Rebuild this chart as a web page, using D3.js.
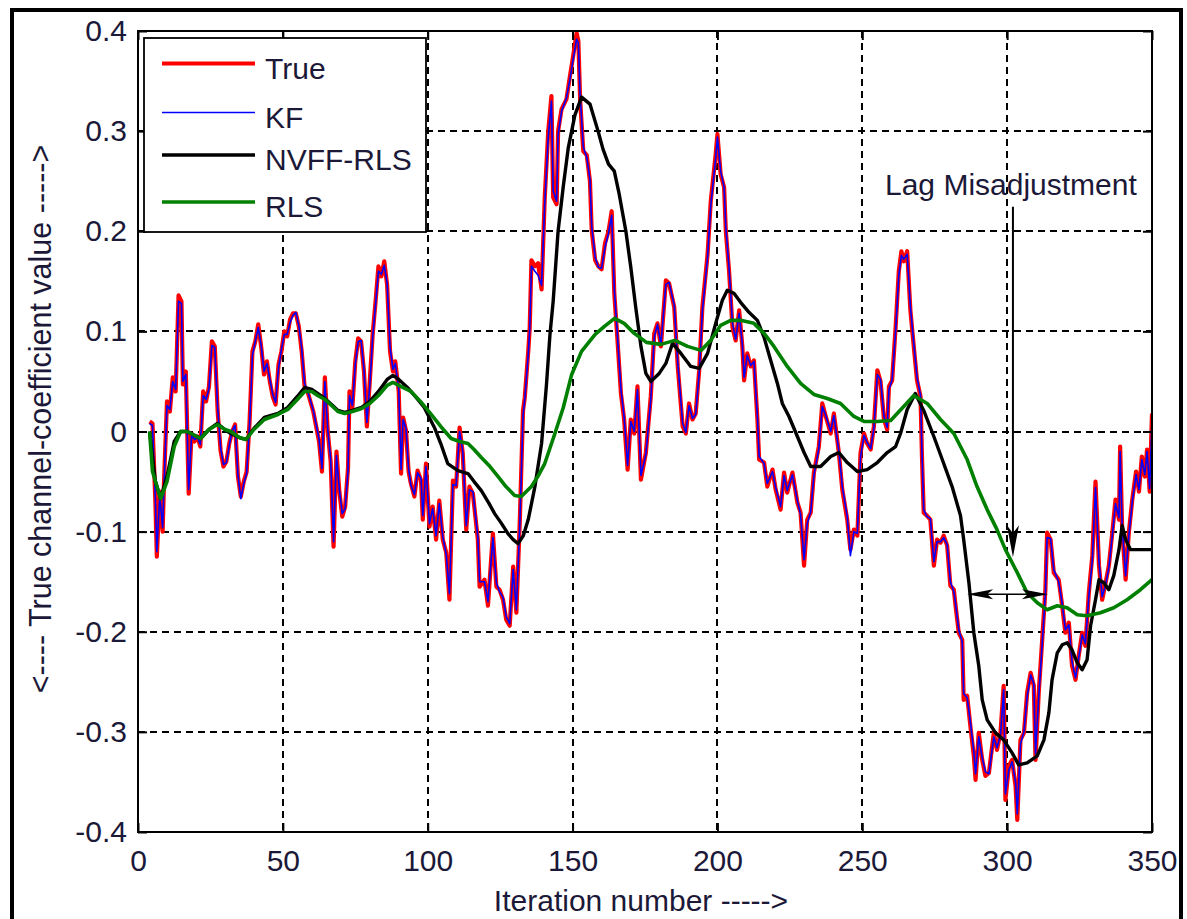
<!DOCTYPE html>
<html>
<head>
<meta charset="utf-8">
<script src="https://cdn.jsdelivr.net/npm/d3@7/dist/d3.min.js"></script>
<style>
  html, body { margin: 0; padding: 0; background: #ffffff; }
  svg { display: block; }
  text { font-family: "Liberation Sans", Arial, sans-serif; fill: #1b1838; }
</style>
</head>
<body>
<svg id="chart" width="1187" height="919"></svg>
<script>
// Iteration axis samples and channel-coefficient values for each estimator
const trueIter = [4,5,6,6.5,7.5,8.5,9,10,11,12,13,14,15,15.5,16.5,17.5,18.5,19.5,20.5,21.5,22.5,23.5,24.5,25.5,26.5,27.5,28.5,29.5,30.5,31.5,32.5,33.5,34.5,35.5,36.5,37.5,38.5,39.5,40.5,41.5,42.5,43.5,44.5,45.5,46.5,47.5,48.5,49.5,50.5,51.5,52.5,53.5,54.5,55.5,56.5,57.5,58.5,59.5,60.5,61.5,62.5,63.5,64.5,65.5,66.5,67.5,68.5,69.5,70.5,71.5,72.5,73,74,75,76,77,78,79,80,81,82,83,84,85,86,87,88,88.8,90,90.8,91.5,92.5,93.4,94.2,95.4,96.5,97.7,98.3,99.4,100.6,101.7,102.9,104,105.2,106.4,107.5,108.7,109.8,111,112.1,113.3,114.4,115.6,117.3,117.9,119.6,120.8,122.5,123.7,124.8,126,127.1,128.3,129.5,130.6,131.8,132.9,133.5,134.7,135.2,135.8,137,138.1,139.3,140.4,141.6,142.7,143.3,144.5,145,146.2,147.9,149.1,150.2,151.4,152,152.6,153.7,154.9,156,156.6,157.8,158.9,160,161.2,162.4,163.5,164.4,165.3,166.7,167.8,169,170.1,171.3,172.4,173.6,175.3,177,178.2,179.3,180.5,182.2,183.3,185.1,186.3,188,189.1,190.2,191.4,192.5,193.7,194.8,196.6,197.7,199.4,200,201.1,202.3,202.9,204,205.2,206.3,207.5,208.6,209.2,210.3,211.5,212.6,213.8,214.4,216.1,217.2,219,220.1,221.8,223,224.1,225.9,227.6,228.7,229.9,231,232.2,233.3,235,236.2,237.4,239.1,240.2,241.9,243.1,244.8,245.9,247.1,248.3,249.4,250.6,251.7,252.9,254,255.2,256.3,257.5,258.6,259.2,260.3,261.5,262.6,263.5,264.3,265.5,266.6,267.8,268.9,270.1,270.6,271.2,272.3,273.5,274.7,275.8,277,278.1,279.3,280.4,281.6,282.2,283.3,284.5,285,286.2,287.3,288.5,289.1,290.2,291.4,292.5,293.7,295.4,296.5,297.7,298.8,299.4,300.6,301.7,302.9,303.5,304.6,305.8,306.9,308.1,309.2,309.8,310.9,312.1,313.2,313.8,315,316.1,317.8,319,320.1,321.3,322.4,323.6,324.7,325.9,327,328.2,329.4,330.5,331.7,332.8,334,335.1,336.3,337.4,338.6,339,339.7,340.9,342,343.2,344.5,345.5,346.5,347.5,348.3,349.2,350];

const trueVal = [0.010,0.008,-0.070,-0.125,-0.060,-0.100,-0.049,0.030,0.020,0.054,0.040,0.136,0.130,0.047,0.060,-0.062,-0.002,-0.010,-0.005,-0.015,0.040,0.030,0.045,0.090,0.085,0.020,-0.019,-0.035,-0.030,-0.012,0.000,0.007,-0.045,-0.065,-0.050,-0.040,0.009,0.080,0.090,0.107,0.085,0.057,0.070,0.050,0.035,0.027,0.067,0.080,0.100,0.095,0.112,0.118,0.118,0.105,0.080,0.045,0.040,0.030,0.020,0.005,-0.010,-0.040,0.054,0.000,-0.030,-0.115,-0.020,-0.060,-0.085,-0.075,-0.036,0.040,0.024,0.070,0.093,0.090,0.060,0.005,0.050,0.097,0.130,0.165,0.155,0.170,0.146,0.080,0.060,0.070,0.040,-0.042,0.014,0.001,-0.040,-0.052,-0.065,-0.039,-0.049,-0.088,-0.032,-0.095,-0.075,-0.108,-0.069,-0.108,-0.121,-0.168,-0.049,-0.055,0.004,-0.022,-0.098,-0.055,-0.062,-0.108,-0.155,-0.148,-0.174,-0.102,-0.155,-0.158,-0.168,-0.188,-0.194,-0.135,-0.181,-0.088,0.021,0.034,0.080,0.103,0.171,0.165,0.168,0.142,0.234,0.300,0.335,0.234,0.227,0.300,0.322,0.332,0.355,0.375,0.398,0.390,0.332,0.280,0.276,0.250,0.201,0.171,0.165,0.162,0.188,0.200,0.220,0.138,0.100,0.038,0.012,-0.038,0.012,-0.002,0.045,-0.048,-0.021,0.035,0.098,0.108,0.085,0.151,0.148,0.124,0.065,0.005,-0.002,0.028,0.012,0.018,0.061,0.124,0.177,0.230,0.277,0.297,0.257,0.244,0.200,0.161,0.104,0.091,0.121,0.085,0.051,0.078,0.065,0.071,0.012,-0.028,-0.031,-0.055,-0.038,-0.058,-0.078,-0.041,-0.061,-0.041,-0.071,-0.081,-0.134,-0.088,-0.081,-0.041,-0.015,0.028,0.015,-0.002,0.018,-0.021,-0.058,-0.088,-0.118,-0.098,-0.104,-0.021,-0.002,-0.012,-0.018,0.005,0.061,0.050,0.012,0.002,0.045,0.051,0.104,0.160,0.180,0.170,0.180,0.121,0.084,0.051,0.035,-0.025,-0.081,-0.084,-0.088,-0.134,-0.108,-0.111,-0.104,-0.114,-0.154,-0.158,-0.174,-0.201,-0.208,-0.268,-0.264,-0.294,-0.324,-0.348,-0.301,-0.328,-0.344,-0.341,-0.301,-0.318,-0.301,-0.254,-0.368,-0.334,-0.328,-0.354,-0.388,-0.308,-0.301,-0.261,-0.241,-0.254,-0.328,-0.261,-0.208,-0.158,-0.101,-0.108,-0.141,-0.148,-0.174,-0.201,-0.191,-0.234,-0.248,-0.224,-0.201,-0.214,-0.161,-0.124,-0.050,-0.134,-0.168,-0.151,-0.134,-0.101,-0.068,-0.088,-0.015,-0.098,-0.148,-0.101,-0.068,-0.040,-0.060,-0.025,-0.045,-0.018,-0.060,0.018];

// Kalman-filter estimate, sampled on the same iterations as the true coefficient
const kfVal = [0.008,0.006,-0.068,-0.120,-0.064,-0.096,-0.052,0.026,0.022,0.050,0.042,0.130,0.128,0.050,0.057,-0.058,-0.004,-0.008,-0.006,-0.013,0.036,0.032,0.043,0.086,0.084,0.024,-0.016,-0.033,-0.031,-0.014,0.001,0.006,-0.043,-0.067,-0.052,-0.042,0.006,0.076,0.090,0.104,0.086,0.060,0.068,0.052,0.037,0.029,0.063,0.082,0.097,0.097,0.109,0.116,0.119,0.106,0.083,0.048,0.041,0.031,0.021,0.007,-0.008,-0.037,0.050,0.002,-0.028,-0.110,-0.024,-0.058,-0.082,-0.077,-0.039,0.036,0.026,0.067,0.090,0.091,0.062,0.009,0.046,0.094,0.127,0.160,0.157,0.166,0.148,0.084,0.062,0.068,0.042,-0.038,0.012,0.003,-0.037,-0.054,-0.063,-0.041,-0.047,-0.084,-0.035,-0.092,-0.077,-0.104,-0.072,-0.105,-0.123,-0.162,-0.053,-0.054,0.000,-0.020,-0.094,-0.058,-0.060,-0.105,-0.150,-0.150,-0.170,-0.106,-0.151,-0.160,-0.166,-0.185,-0.192,-0.138,-0.178,-0.092,0.016,0.032,0.077,0.101,0.165,0.160,0.156,0.146,0.228,0.294,0.330,0.240,0.230,0.296,0.320,0.333,0.352,0.372,0.392,0.388,0.336,0.284,0.274,0.252,0.205,0.174,0.164,0.163,0.184,0.198,0.216,0.142,0.104,0.042,0.014,-0.034,0.010,0.000,0.042,-0.044,-0.023,0.032,0.094,0.107,0.087,0.147,0.149,0.126,0.069,0.008,-0.001,0.026,0.013,0.017,0.058,0.120,0.174,0.226,0.273,0.294,0.260,0.244,0.204,0.164,0.108,0.092,0.118,0.087,0.054,0.076,0.066,0.070,0.015,-0.025,-0.032,-0.052,-0.040,-0.056,-0.075,-0.044,-0.059,-0.043,-0.069,-0.083,-0.128,-0.092,-0.080,-0.044,-0.017,0.025,0.016,0.000,0.016,-0.019,-0.055,-0.085,-0.124,-0.100,-0.102,-0.025,-0.004,-0.011,-0.017,0.003,0.057,0.052,0.015,0.004,0.042,0.052,0.100,0.156,0.176,0.172,0.177,0.125,0.087,0.054,0.036,-0.020,-0.078,-0.085,-0.087,-0.130,-0.110,-0.110,-0.106,-0.113,-0.150,-0.160,-0.172,-0.198,-0.210,-0.262,-0.266,-0.290,-0.320,-0.342,-0.305,-0.326,-0.340,-0.342,-0.305,-0.316,-0.303,-0.258,-0.362,-0.338,-0.330,-0.350,-0.382,-0.312,-0.300,-0.265,-0.243,-0.252,-0.322,-0.265,-0.212,-0.162,-0.106,-0.107,-0.138,-0.150,-0.172,-0.198,-0.193,-0.230,-0.246,-0.226,-0.203,-0.212,-0.165,-0.128,-0.056,-0.130,-0.165,-0.153,-0.136,-0.104,-0.072,-0.086,-0.020,-0.095,-0.144,-0.104,-0.070,-0.043,-0.058,-0.028,-0.043,-0.020,-0.057,0.012];

// NVFF-RLS estimate
const nvffIter = [4,6,7.8,10,12.5,14.7,17,21.6,24.5,27.4,30,32,35,37.3,40,43.6,48.3,51.7,55,57.5,60,62,64.5,66.8,69,71.4,74,77.2,80,83,86,88,90,93,96,98.8,102.3,104.5,106.9,110.4,113.9,116,118.5,121,123.1,125.5,127.7,129.5,131.2,133,134.7,137,139.3,141,142.2,143.3,145,146.8,148.5,150.8,153.1,156,158.9,160.5,162.4,164.4,166.1,168.4,170.1,171.8,173.6,175.3,177,179.9,182.2,184.5,187.4,190.8,193.7,196.6,199.4,201.7,203.4,205.7,208,210.9,213.8,216.1,218.4,220.7,222.4,224.7,227.6,229.9,232.2,235.6,239.1,241.9,244.8,248.3,251.7,255.2,258.6,261.5,263.2,265.5,268.3,271.2,274.7,277.6,281,283.9,285,286.8,288.5,290.2,291.4,293.1,296,298.8,301.7,304,306.9,310.4,312.7,314.4,315.5,317.3,319,320.7,322.4,324.2,325.9,327.6,328.8,330.5,331.7,333.4,335.1,336.8,338.6,339.7,340.9,342.6,350];
const nvffVal = [0.000,-0.050,-0.067,-0.045,-0.010,0.000,0.000,-0.007,0.002,0.008,0.002,-0.002,-0.006,-0.008,0.003,0.014,0.018,0.024,0.035,0.044,0.042,0.038,0.033,0.027,0.021,0.019,0.021,0.024,0.030,0.040,0.052,0.056,0.052,0.044,0.034,0.024,0.004,-0.012,-0.032,-0.039,-0.042,-0.050,-0.059,-0.071,-0.082,-0.092,-0.102,-0.108,-0.112,-0.104,-0.088,-0.055,-0.012,0.047,0.097,0.130,0.200,0.245,0.283,0.316,0.334,0.327,0.299,0.282,0.267,0.260,0.237,0.200,0.164,0.124,0.085,0.058,0.050,0.058,0.068,0.088,0.078,0.065,0.063,0.078,0.108,0.131,0.141,0.138,0.129,0.119,0.111,0.094,0.071,0.048,0.028,0.015,-0.005,-0.021,-0.035,-0.035,-0.025,-0.021,-0.031,-0.040,-0.038,-0.031,-0.021,-0.015,-0.002,0.022,0.038,0.021,-0.005,-0.028,-0.055,-0.084,-0.108,-0.151,-0.201,-0.234,-0.268,-0.288,-0.301,-0.308,-0.321,-0.333,-0.331,-0.324,-0.308,-0.281,-0.248,-0.221,-0.213,-0.211,-0.218,-0.231,-0.238,-0.228,-0.194,-0.168,-0.148,-0.151,-0.158,-0.144,-0.118,-0.094,-0.108,-0.118,-0.118];

// Conventional RLS estimate
const rlsIter = [4,5,7.8,10,12.5,14.7,17,21.6,24.5,27.4,30,32,35,37.3,40,43.6,48.3,51.7,55,57.5,60,62,64.5,66.8,69,71.4,74,77.2,80,83,86,88,90,94.2,97.5,101.2,104.5,108.1,111,113.9,116,118.5,121.5,124.3,127,130,132.3,135.8,138,140.4,143.9,146.8,149.7,153.1,157.8,161,164.5,167.8,171.3,175.5,180.5,185.3,189.7,194.3,197.7,201.1,204.6,208,212.6,216.1,219.5,224.1,228.7,233.3,237.9,242.5,247.1,250.6,255.2,259.8,264.3,267.8,272.4,277,281.6,286.2,289.6,293.1,296.5,299.4,303.5,306.9,310.4,313.8,317.3,320.7,324.2,327.6,332.2,336.8,341.4,346,350];
const rlsVal = [0.000,-0.040,-0.067,-0.050,-0.015,0.000,0.000,-0.007,0.002,0.007,0.002,0.000,-0.006,-0.008,0.002,0.012,0.017,0.022,0.032,0.040,0.040,0.036,0.032,0.026,0.020,0.018,0.020,0.023,0.028,0.036,0.046,0.049,0.046,0.040,0.030,0.017,0.005,-0.007,-0.010,-0.012,-0.018,-0.026,-0.035,-0.045,-0.055,-0.064,-0.065,-0.055,-0.045,-0.032,-0.002,0.024,0.057,0.080,0.097,0.105,0.113,0.108,0.098,0.089,0.087,0.091,0.085,0.081,0.091,0.106,0.111,0.111,0.108,0.098,0.085,0.065,0.048,0.037,0.033,0.028,0.015,0.010,0.010,0.011,0.025,0.036,0.028,0.012,-0.002,-0.028,-0.055,-0.078,-0.098,-0.118,-0.141,-0.161,-0.171,-0.178,-0.174,-0.176,-0.183,-0.184,-0.181,-0.176,-0.168,-0.158,-0.148];

const xTicks = [0, 50, 100, 150, 200, 250, 300, 350];
const yTicks = [-0.4, -0.3, -0.2, -0.1, 0, 0.1, 0.2, 0.3, 0.4];
const legendLabels = ["True", "KF", "NVFF-RLS", "RLS"];
const seriesColors = ["#ff0000", "#0000ff", "#000000", "#008000"];
const seriesWidths = [4.2, 1.6, 3.4, 3.6];

const svg = d3.select("#chart");
const W = 1187, H = 919;
const plot = { left: 138, right: 1152, top: 31, bottom: 832 };
const FONT = 30;

svg.append("rect").attr("width", W).attr("height", H).attr("fill", "#ffffff");
// figure frame (bottom edge runs off the page)
svg.append("rect").attr("x", 12).attr("y", 10).attr("width", 1169).attr("height", 940)
  .attr("fill", "none").attr("stroke", "#000").attr("stroke-width", 4);

const x = d3.scaleLinear().domain([0, 350]).range([plot.left, plot.right]);
const y = d3.scaleLinear().domain([-0.4, 0.4]).range([plot.bottom, plot.top]);

// dashed grid
const grid = svg.append("g").attr("shape-rendering", "crispEdges");
grid.selectAll("line.gx").data(xTicks.slice(1, -1)).join("line")
  .attr("x1", d => Math.round(x(d))).attr("x2", d => Math.round(x(d)))
  .attr("y1", plot.top).attr("y2", plot.bottom)
  .attr("stroke", "#000").attr("stroke-width", 2).attr("stroke-dasharray", "7,5");
grid.selectAll("line.gy").data(yTicks.slice(1, -1)).join("line")
  .attr("y1", d => Math.round(y(d))).attr("y2", d => Math.round(y(d)))
  .attr("x1", plot.left).attr("x2", plot.right)
  .attr("stroke", "#000").attr("stroke-width", 2).attr("stroke-dasharray", "7,5");

// series
svg.append("defs").append("clipPath").attr("id", "clip").append("rect")
  .attr("x", plot.left).attr("y", plot.top - 2)
  .attr("width", plot.right - plot.left).attr("height", plot.bottom - plot.top + 2);

const line = d3.line().x(d => x(d[0])).y(d => y(d[1])).curve(d3.curveLinear);
const series = [
  d3.zip(trueIter, trueVal),
  d3.zip(trueIter, kfVal),
  d3.zip(nvffIter, nvffVal),
  d3.zip(rlsIter, rlsVal)
];
const lines = svg.append("g").attr("clip-path", "url(#clip)");
series.forEach((s, k) => {
  lines.append("path").datum(s).attr("d", line)
    .attr("fill", "none").attr("stroke", seriesColors[k])
    .attr("stroke-width", seriesWidths[k]).attr("stroke-linejoin", "round");
});

// axes: ticks drawn inward on all four sides, labels use a plain hyphen for negatives
const fmt = d => d === 0 ? "0" : d.toFixed(1);
const tickLen = 9;
const axB = svg.append("g").attr("transform", `translate(0,${plot.bottom})`)
  .call(d3.axisBottom(x).tickValues(xTicks).tickFormat(d3.format("d")).tickSizeInner(-tickLen).tickSizeOuter(0).tickPadding(18));
const axT = svg.append("g").attr("transform", `translate(0,${plot.top})`)
  .call(d3.axisTop(x).tickValues(xTicks).tickFormat("").tickSizeInner(-tickLen).tickSizeOuter(0));
const axL = svg.append("g").attr("transform", `translate(${plot.left},0)`)
  .call(d3.axisLeft(y).tickValues(yTicks).tickFormat(fmt).tickSizeInner(-tickLen).tickSizeOuter(0).tickPadding(11));
const axR = svg.append("g").attr("transform", `translate(${plot.right},0)`)
  .call(d3.axisRight(y).tickValues(yTicks).tickFormat("").tickSizeInner(-tickLen).tickSizeOuter(0));
[axB, axT, axL, axR].forEach(a => {
  a.select(".domain").remove();
  a.selectAll(".tick line").attr("stroke", "#000").attr("stroke-width", 2);
  a.selectAll("text").attr("font-size", FONT).attr("fill", "#1b1838")
    .attr("font-family", "'Liberation Sans', Arial, sans-serif");
});

svg.append("rect").attr("x", plot.left).attr("y", plot.top)
  .attr("width", plot.right - plot.left).attr("height", plot.bottom - plot.top)
  .attr("fill", "none").attr("stroke", "#000").attr("stroke-width", 2);

// axis titles
svg.append("text").attr("transform", "translate(51,419) rotate(-90)")
  .attr("text-anchor", "middle").attr("font-size", 30.5)
  .text("<---- True channel-coefficient value ----->");
svg.append("text").attr("x", 641).attr("y", 911)
  .attr("text-anchor", "middle").attr("font-size", FONT)
  .text("Iteration number ----->");

// legend
const lg = svg.append("g");
lg.append("rect").attr("x", 144).attr("y", 38).attr("width", 282).attr("height", 194)
  .attr("fill", "#ffffff").attr("stroke", "#000").attr("stroke-width", 1.8);
const legendRowY = [63.5, 112.5, 155, 202];
legendLabels.forEach((lab, k) => {
  lg.append("line").attr("x1", 162).attr("x2", 255)
    .attr("y1", legendRowY[k]).attr("y2", legendRowY[k])
    .attr("stroke", seriesColors[k]).attr("stroke-width", seriesWidths[k]);
  lg.append("text").attr("x", 265).attr("y", legendRowY[k] + 15)
    .attr("font-size", FONT).text(lab);
});

// annotation: lag misadjustment arrows
const note = svg.append("g");
note.append("text").attr("x", 885).attr("y", 195).attr("font-size", FONT).text("Lag Misadjustment");
const ax0 = x(302), ayTop = y(0.2244), ayTip = y(-0.1257);
note.append("line").attr("x1", ax0).attr("x2", ax0).attr("y1", ayTop).attr("y2", ayTip - 20)
  .attr("stroke", "#000").attr("stroke-width", 2);
note.append("path")
  .attr("d", `M${ax0},${ayTip} L${ax0 - 6},${ayTip - 32} L${ax0},${ayTip - 24} L${ax0 + 6},${ayTip - 32} Z`)
  .attr("fill", "#000");
const hy = y(-0.1626), hx1 = x(286.2), hx2 = x(314.1);
note.append("line").attr("x1", hx1 + 10).attr("x2", hx2 - 10).attr("y1", hy).attr("y2", hy)
  .attr("stroke", "#000").attr("stroke-width", 1.6);
note.append("path")
  .attr("d", `M${hx1},${hy} L${hx1 + 26},${hy - 5} L${hx1 + 20},${hy} L${hx1 + 26},${hy + 5} Z`)
  .attr("fill", "#000");
note.append("path")
  .attr("d", `M${hx2},${hy} L${hx2 - 26},${hy - 5} L${hx2 - 20},${hy} L${hx2 - 26},${hy + 5} Z`)
  .attr("fill", "#000");
</script>
</body>
</html>
